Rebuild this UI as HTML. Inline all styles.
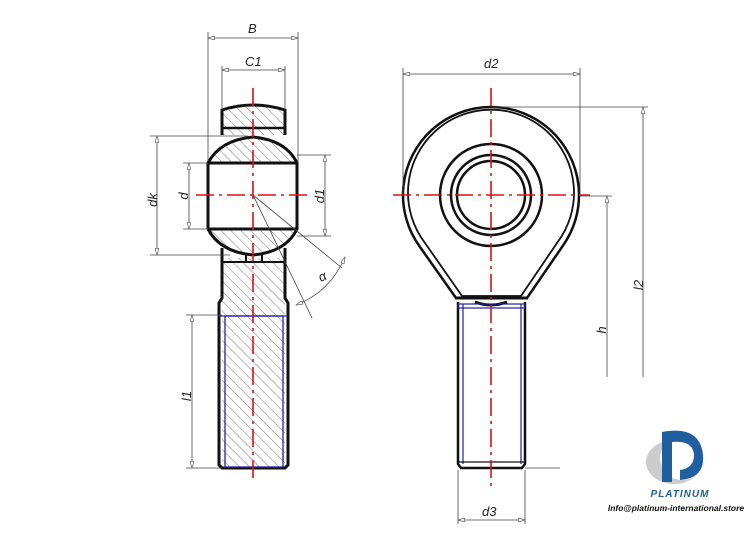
<!DOCTYPE html>
<html><head><meta charset="utf-8"><style>
html,body{margin:0;padding:0;background:#fff;width:750px;height:536px;overflow:hidden}
svg{display:block}
text{font-family:"Liberation Sans",sans-serif;font-style:italic}
</style></head><body>
<svg width="750" height="536" viewBox="0 0 750 536" xmlns="http://www.w3.org/2000/svg">
<defs>
<pattern id="h" width="7" height="7" patternUnits="userSpaceOnUse" patternTransform="rotate(-45)">
<line x1="0" y1="0" x2="0" y2="7" stroke="#666" stroke-width="0.9"/></pattern>
<marker id="a" viewBox="0 0 10 6" refX="10" refY="3" markerWidth="10" markerHeight="5" orient="auto-start-reverse"><path d="M0,0 L10,3 L0,6 z" fill="#fff" stroke="#555" stroke-width="1"/></marker>
</defs>

<!-- LEFT VIEW -->
<g fill="url(#h)" stroke="none">
<path d="M222,110 Q253,100 285,110 L285,135 L222,135 z"/>
<path d="M208,163 Q220,140 253,137 Q286,140 297,163 z"/>
<path d="M208,229 Q220,252 253,255 Q286,252 297,229 z"/>
<rect x="222" y="258" width="63" height="210"/>
</g>
<g fill="none" stroke="#111" stroke-width="3">
<path d="M222,135 L222,110 Q253,100 285,110 L285,135"/>
<line x1="222" y1="128" x2="285" y2="128" stroke-width="2.5"/>
<path d="M208,229 L208,163 Q220,140 253,137 Q286,140 297,163 L297,229 Q286,252 253,255 Q220,252 208,229"/>
<line x1="208" y1="163" x2="297" y2="163"/>
<line x1="208" y1="229" x2="297" y2="229"/>
<path d="M222,248 L222,298 L219,303 L219,465 L222,468 L285,468 L288,465 L288,303 L285,298 L285,248"/>
<line x1="246" y1="255" x2="246" y2="262" stroke-width="2"/>
<line x1="262" y1="255" x2="262" y2="262" stroke-width="2"/>
<line x1="222" y1="262" x2="285" y2="262" stroke-width="2"/>
</g>
<rect x="225" y="316" width="58" height="151" fill="none" stroke="#22a" stroke-width="1.3"/>
<line x1="219" y1="316" x2="288" y2="316" stroke="#22a" stroke-width="1.3"/>
<g stroke="#d11" stroke-width="1.6" stroke-dasharray="18,5,3,5" fill="none">
<line x1="253" y1="88" x2="253" y2="480"/>
<line x1="196" y1="195" x2="312" y2="195"/>
</g>
<!-- left dims -->
<g stroke="#444" stroke-width="0.8" fill="none">
<line x1="208" y1="32" x2="208" y2="162"/><line x1="298" y1="32" x2="298" y2="162"/>
<line x1="208" y1="38" x2="298" y2="38" marker-start="url(#a)" marker-end="url(#a)"/>
<line x1="222" y1="66" x2="222" y2="108"/><line x1="285" y1="66" x2="285" y2="108"/>
<line x1="222" y1="70" x2="285" y2="70" marker-start="url(#a)" marker-end="url(#a)"/>
<line x1="150" y1="136" x2="248" y2="136"/><line x1="150" y1="255" x2="230" y2="255"/>
<line x1="157" y1="136" x2="157" y2="255" marker-start="url(#a)" marker-end="url(#a)"/>
<line x1="183" y1="163" x2="208" y2="163"/><line x1="183" y1="229" x2="208" y2="229"/>
<line x1="189" y1="163" x2="189" y2="229" marker-start="url(#a)" marker-end="url(#a)"/>
<line x1="297" y1="155" x2="331" y2="155"/><line x1="297" y1="236" x2="331" y2="236"/>
<line x1="325" y1="155" x2="325" y2="236" marker-start="url(#a)" marker-end="url(#a)"/>
<line x1="186" y1="315" x2="222" y2="315"/><line x1="186" y1="468" x2="222" y2="468"/>
<line x1="192" y1="315" x2="192" y2="468" marker-start="url(#a)" marker-end="url(#a)"/>
<line x1="253" y1="195" x2="312" y2="318"/>
<line x1="253" y1="195" x2="342" y2="268"/>
<path d="M296,305 Q330,292 345,257" marker-start="url(#a)" marker-end="url(#a)"/>
</g>
<g font-size="13" fill="#222">
<text x="248" y="33">B</text>
<text x="245" y="66">C1</text>
<text x="152" y="205" transform="rotate(-90 152 200)" text-anchor="middle">dk</text>
<text x="184" y="200" transform="rotate(-90 184 196)" text-anchor="middle">d</text>
<text x="320" y="200" transform="rotate(-90 320 196)" text-anchor="middle">d1</text>
<text x="187" y="400" transform="rotate(-90 187 396)" text-anchor="middle">l1</text>
<text x="319" y="282" transform="rotate(-25 320 278)">α</text>
</g>

<!-- RIGHT VIEW -->
<g fill="none" stroke="#111" stroke-width="2.5">
<path d="M420,247 A88,88 0 1 1 562,247 L527,298 L456,298 z"/>
<path d="M425,243 A83,83 0 1 1 557,243 L521,296 L462,296 z" stroke-width="1.8"/>
<circle cx="491" cy="195" r="51"/>
<circle cx="491" cy="195" r="40"/>
<circle cx="491" cy="195" r="34"/>
<path d="M475,302 Q491,308 507,302" stroke-width="3"/>
<path d="M458,302 L458,464 L461,468 L522,468 L525,464 L525,302"/>
<line x1="455" y1="298" x2="528" y2="298" stroke-width="3"/>
</g>
<rect x="458" y="304" width="67" height="4" fill="none" stroke="#22a" stroke-width="1.2"/>
<line x1="463" y1="304" x2="463" y2="464" stroke="#22a" stroke-width="1.2"/>
<line x1="521" y1="304" x2="521" y2="464" stroke="#22a" stroke-width="1.2"/>
<line x1="458" y1="462" x2="525" y2="462" stroke="#111" stroke-width="1.2"/>
<g stroke="#d11" stroke-width="1.6" stroke-dasharray="18,5,3,5" fill="none">
<line x1="491" y1="88" x2="491" y2="490"/>
<line x1="393" y1="195" x2="590" y2="195"/>
</g>
<g stroke="#444" stroke-width="0.8" fill="none">
<line x1="403" y1="68" x2="403" y2="195"/><line x1="580" y1="68" x2="580" y2="195"/>
<line x1="403" y1="74" x2="580" y2="74" marker-start="url(#a)" marker-end="url(#a)"/>
<line x1="491" y1="107" x2="648" y2="107"/>
<line x1="643" y1="107" x2="643" y2="377" marker-start="url(#a)"/>
<line x1="580" y1="196" x2="612" y2="196"/>
<line x1="607" y1="196" x2="607" y2="377" marker-start="url(#a)"/>
<line x1="525" y1="468" x2="560" y2="468"/>
<line x1="458" y1="470" x2="458" y2="524"/><line x1="525" y1="470" x2="525" y2="524"/>
<line x1="458" y1="520" x2="525" y2="520" marker-start="url(#a)" marker-end="url(#a)"/>
</g>
<g font-size="13" fill="#222">
<text x="484" y="68">d2</text>
<text x="638" y="290" transform="rotate(-90 638 285)" text-anchor="middle">l2</text>
<text x="602" y="334" transform="rotate(-90 602 330)" text-anchor="middle">h</text>
<text x="482" y="516">d3</text>
</g>

<!-- LOGO -->
<g>
<ellipse cx="674" cy="462" rx="28" ry="22" fill="#ccc"/>
<circle cx="682" cy="458" r="22" fill="#fff"/>
<path d="M662,432 Q700,425 703,455 Q705,478 680,480 L680,470 Q694,468 694,455 Q693,440 672,442 L672,482 L662,482 z" fill="#1f5fa0"/>
<text x="680" y="497" font-size="10" font-weight="bold" font-style="normal" fill="#1f5fa0" text-anchor="middle" letter-spacing="1">PLATINUM</text>
<text x="676" y="511" font-size="8.5" font-weight="bold" font-style="normal" fill="#111" text-anchor="middle">Info@platinum-international.store</text>
</g>
</svg>
</body></html>
